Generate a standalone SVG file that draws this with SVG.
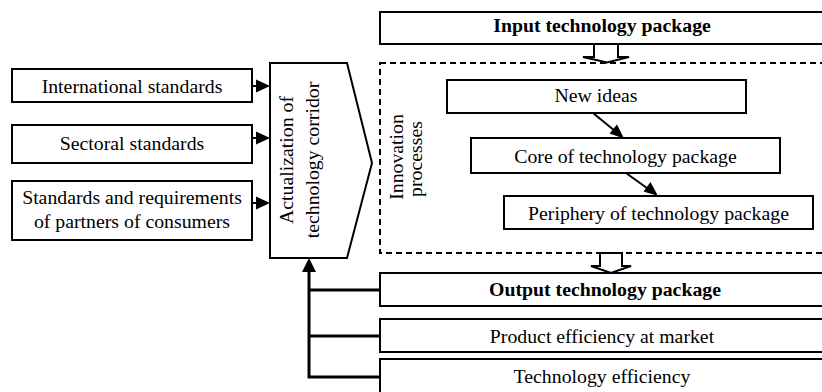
<svg xmlns="http://www.w3.org/2000/svg" width="822" height="392" viewBox="0 0 822 392" font-family="'Liberation Serif', 'Times New Roman', Times, serif">
<style>
.box{fill:#fff;stroke:#000;stroke-width:2}
.dash{fill:none;stroke:#000;stroke-width:2;stroke-dasharray:6 4}
text{font-family:'Liberation Serif','Times New Roman',Times,serif}
.t{font-size:19.8px;fill:#000;text-anchor:middle}
.b{font-weight:bold}
.ln{fill:none;stroke:#000;stroke-width:2}
.fb{fill:none;stroke:#000;stroke-width:3}
.ah{fill:#000;stroke:none}
.hollow{fill:#fff;stroke:#000;stroke-width:2;stroke-linejoin:miter}
</style>
<rect width="822" height="392" fill="#fff"/>

<g id="international-standards">
<rect class="box" x="12" y="69" width="240" height="33"/>
<text class="t" x="132" y="93">International standards</text>
</g>
<g id="sectoral-standards">
<rect class="box" x="12" y="125" width="240" height="38"/>
<text class="t" x="132" y="150">Sectoral standards</text>
</g>
<g id="partners-standards">
<rect class="box" x="12" y="181" width="240" height="59"/>
<text class="t" x="132" y="204">Standards and requirements</text>
<text class="t" x="132" y="228">of partners of consumers</text>
</g>
<g id="actualization">
<polygon class="box" points="270,63 347,63 372,163 347,258 270,258"/>
<text class="t" transform="translate(293,160) rotate(-90)">Actualization of</text>
<text class="t" transform="translate(318.5,160) rotate(-90)">technology corridor</text>
</g>
<g id="input-package">
<rect class="box" x="380" y="12" width="446" height="32"/>
<text class="t b" x="602" y="32">Input technology package</text>
</g>
<g id="innovation-processes">
<rect class="dash" x="380" y="63" width="446" height="190"/>
<text class="t" transform="translate(403,157) rotate(-90)">Innovation</text>
<text class="t" transform="translate(422,159) rotate(-90)">processes</text>
</g>
<g id="new-ideas">
<rect class="box" x="447" y="80" width="299" height="33"/>
<text class="t" x="596" y="102">New ideas</text>
</g>
<g id="core">
<rect class="box" x="471" y="138" width="309" height="35"/>
<text class="t" x="625.5" y="163">Core of technology package</text>
</g>
<g id="periphery">
<rect class="box" x="504" y="196" width="309" height="33"/>
<text class="t" x="658.5" y="220">Periphery of technology package</text>
</g>
<g id="output-package">
<rect class="box" x="380" y="273" width="446" height="33"/>
<text class="t b" x="605" y="296">Output technology package</text>
</g>
<g id="product-efficiency">
<rect class="box" x="380" y="319" width="446" height="33"/>
<text class="t" x="602" y="343">Product efficiency at market</text>
</g>
<g id="technology-efficiency">
<rect class="box" x="380" y="359" width="446" height="40"/>
<text class="t" x="602" y="383">Technology efficiency</text>
</g>

<g id="connectors">
<line class="ln" x1="252" y1="86" x2="258" y2="86"/>
<polygon class="ah" points="256,79.5 270,86 256,92.5"/>
<line class="ln" x1="252" y1="138" x2="258" y2="138"/>
<polygon class="ah" points="256,131.5 270,138 256,144.5"/>
<line class="ln" x1="252" y1="203" x2="258" y2="203"/>
<polygon class="ah" points="256,196.5 270,203 256,209.5"/>

<line class="ln" x1="593" y1="113" x2="615" y2="131"/>
<polygon class="ah" points="624,138.5 609.5,133.5 617,124.5"/>
<line class="ln" x1="626" y1="173" x2="649" y2="189.5"/>
<polygon class="ah" points="658,196 643.5,191.5 650.5,182"/>

<polyline class="fb" points="380,290 309,290"/>
<polyline class="fb" points="380,336 309,336"/>
<polyline class="fb" points="380,377 309,377 309,268"/>
<polygon class="ah" points="309,258 302,272 316,272"/>

<polygon class="hollow" points="594,44 594,57 583,57 607,62.5 629,57 618,57 618,44"/>
<polygon class="hollow" points="600,253 600,266 591,266 611,273 631,266 622,266 622,253"/>
</g>
</svg>
